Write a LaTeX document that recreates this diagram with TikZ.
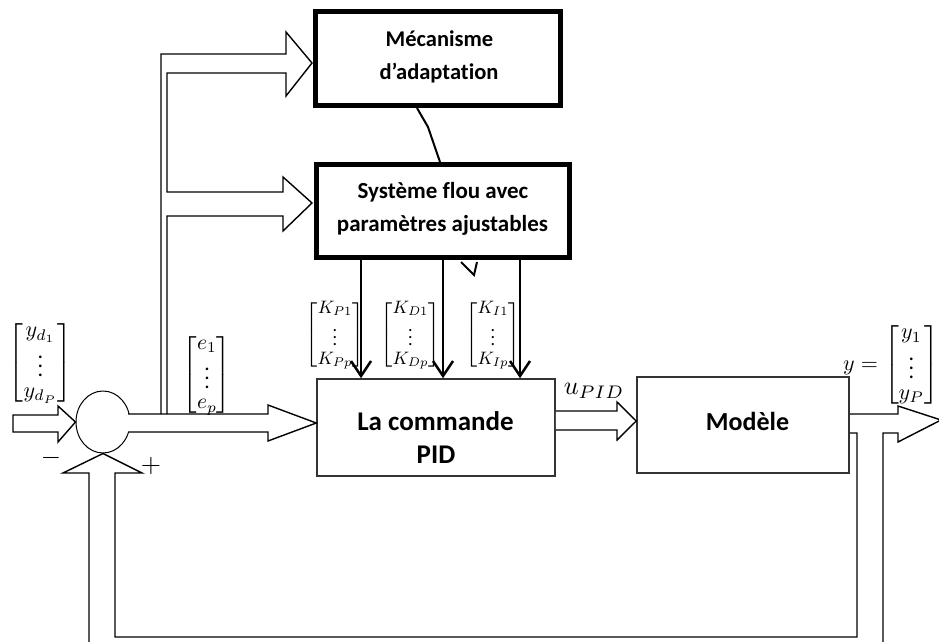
\documentclass[tikz,border=0pt]{standalone}
\usepackage{amsmath}
\usepackage{fontspec}
\setmainfont{Carlito}[Ligatures=NoCommon]
\usetikzlibrary{arrows.meta,shapes.geometric,calc}
\tikzset{
  thin/.style={line width=1.4pt, line join=miter},
  heavybox/.style={draw, line width=5pt, rectangle, inner sep=0pt},
  plainbox/.style={draw=black!80, line width=1.5pt, rectangle, inner sep=0pt},
  smalltxt/.style={anchor=base, inner sep=0pt, font=\fontsize{22.5}{26}\selectfont\bfseries},
  bigtxt/.style={anchor=base, inner sep=0pt, font=\fontsize{27}{30}\selectfont\bfseries},
  mlab/.style={inner sep=0pt},
  downarrow/.style={line width=2.5pt, -{Straight Barb[length=15pt,width=20pt]}},
}
\newcommand{\vecm}[4]{\scalebox{#1}{\renewcommand{\arraystretch}{#2}$\begin{bmatrix} #3\\ \vdots\\ #4\end{bmatrix}$}}
\begin{document}
\begin{tikzpicture}[x=1pt,y=-1pt]
\useasboundingbox (0,0) rectangle (939,642);
% blocks
\node[heavybox, minimum width=245pt, minimum height=94pt] (mec) at (438,58.5) {};
\node[heavybox, minimum width=253pt, minimum height=93pt] (sys) at (443,211) {};
\node[plainbox, minimum width=238pt, minimum height=97pt] (pid) at (436,427.5) {};
\node[plainbox, minimum width=212pt, minimum height=96pt] (mod) at (743,425) {};
\node[ellipse, draw, line width=1pt, minimum width=54pt, minimum height=62pt, inner sep=0pt] (sum) at (103,422) {};
% block texts
\node[smalltxt] (mecA) at (439.5,47) {Mécanisme};
\node[smalltxt] (mecB) at (439,79) {d’adaptation};
\node[smalltxt, font=\fontsize{23}{26}\selectfont\bfseries] (sysA) at (443,198) {Système flou avec};
\node[smalltxt, font=\fontsize{23}{26}\selectfont\bfseries] (sysB) at (442.5,231) {paramètres ajustables};
\node[bigtxt] (pidA) at (435.5,430) {La commande};
\node[bigtxt] (pidB) at (436,463) {PID};
\node[bigtxt, font=\fontsize{26}{30}\selectfont\bfseries] (modA) at (747.5,430) {Modèle};
% link between the two heavy boxes
\coordinate (m1) at (417,0);
\coordinate (m2) at (440,0);
\draw[line width=2pt] (m1 |- mec.south) -- (428,127) -- (m2 |- sys.north);
% small mark under the fuzzy system
\draw[line width=2pt] (461,262) -- (474,275) -- (477,262);
% gain arrows
\coordinate (k1) at (361,0);
\coordinate (k2) at (443,0);
\coordinate (k3) at (520,0);
\draw[downarrow] (k1 |- sys.south) -- (k1 |- pid.north);
\draw[downarrow] (k2 |- sys.south) -- (k2 |- pid.north);
\draw[downarrow] (k3 |- sys.south) -- (k3 |- pid.north);
% input block arrow
\draw[thin, fill=white] (13,415) -- (58,415) -- (58,406) -- (sum.west) -- (58,442) -- (58,432) -- (13,432) -- cycle;
% error block arrow
\fill[white] (127,414) -- (268,414) -- (268,405) -- (316,423) -- (268,441) -- (268,432) -- (127,432) -- cycle;
\draw[thin] (128,414) -- (268,414) -- (268,405) -- (pid.west |- 0,423) -- (268,441) -- (268,432) -- (128,432);
% branch towards the adaptation blocks
\draw[thin] (161,414) -- (161,54) -- (286,54) -- (286,32) -- (312,63) -- (286,96) -- (286,73) -- (167,73)
  -- (167,192) -- (283,192) -- (283,177) -- (312,203) -- (283,231) -- (283,216) -- (167,216) -- (167,414);
% control block arrow
\draw[thin, fill=white] (pid.east |- 0,411) -- (617,411) -- (617,402) -- (mod.west |- 0,421) -- (617,440) -- (617,430) -- (pid.east |- 0,430);
% output block arrow and feedback loop
\draw[thin] (mod.east |- 0,414) -- (898,414) -- (898,406) -- (941,420) -- (898,442) -- (898,433) -- (883,433) -- (883,650);
\draw[thin] (mod.east |- 0,433) -- (857,433) -- (857,637) -- (115,637) -- (115,473) -- (142,473) -- (sum.south) -- (63,473) -- (89,473) -- (89,650);
% signs
\node[inner sep=0pt] (minus) at (51,458) {\scalebox{2.6}{$-$}};
\node[inner sep=0pt] (plus) at (151,466) {\scalebox{2.6}{$+$}};
% math labels
\node[mlab] (yd) at (40.5,363) {\vecm{2.2}{0.8}{y_{d_1}}{y_{d_P}}};
\node[mlab] (ev) at (207,375) {\vecm{2.15}{0.8}{e_{1}}{e_{p}}};
\node[mlab] (kp) at (335,335) {\vecm{1.8}{0.85}{K_{P1}}{K_{Pp}}};
\node[mlab] (kd) at (410.5,335) {\vecm{1.8}{0.85}{K_{D1}}{K_{Dp}}};
\node[mlab] (ki) at (493,335) {\vecm{1.8}{0.85}{K_{I1}}{K_{Ip}}};
\node[inner sep=0pt] (u) at (594,391) {\scalebox{2.6}{$u_{PID}$}};
\node[mlab, anchor=east] (yout) at (939,365) {\scalebox{2.2}{\renewcommand{\arraystretch}{0.8}$y=\begin{bmatrix} y_{1}\\ \vdots\\ y_{P}\end{bmatrix}$}};
\end{tikzpicture}
\end{document}
